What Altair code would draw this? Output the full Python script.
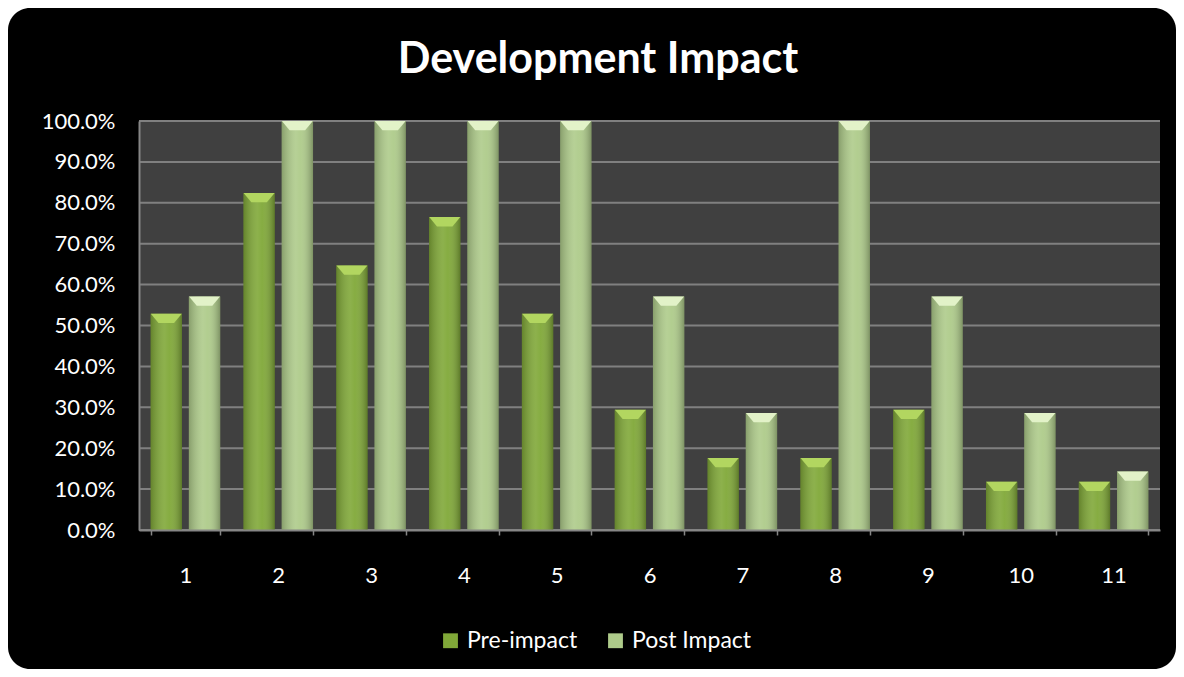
import altair as alt
import pandas as pd

title_text = "Development Impact"
categories = ["1", "2", "3", "4", "5", "6", "7", "8", "9", "10", "11"]
pre_impact = [0.529, 0.824, 0.647, 0.765, 0.529, 0.294, 0.176, 0.176, 0.294, 0.118, 0.118]
post_impact = [0.571, 1.0, 1.0, 1.0, 1.0, 0.571, 0.286, 1.0, 0.571, 0.286, 0.143]
series_names = ["Pre-impact", "Post Impact"]
series_colors = ["#80a838", "#aecb8a"]
bevel_colors = ["#b2d660", "#e2f2c8"]
y_ticks = [0.0, 0.1, 0.2, 0.3, 0.4, 0.5, 0.6, 0.7, 0.8, 0.9, 1.0]

rows = []
for c, a, b in zip(categories, pre_impact, post_impact):
    rows.append({"cat": c, "series": series_names[0], "value": a, "bevel": bevel_colors[0]})
    rows.append({"cat": c, "series": series_names[1], "value": b, "bevel": bevel_colors[1]})
df = pd.DataFrame(rows)

W, H = 1021, 409
FONT = "Lato"

one = pd.DataFrame({"k": [0]})

bg = alt.Chart(one).mark_rect(color="black", cornerRadius=22).encode(
    x=alt.value(-131), x2=alt.value(1037), y=alt.value(-113), y2=alt.value(548)
)
plotbg = alt.Chart(one).mark_rect(color="#404040").encode(
    x=alt.value(0), x2=alt.value(W), y=alt.value(0), y2=alt.value(H)
)
title = alt.Chart(pd.DataFrame({"t": [title_text]})).mark_text(
    font=FONT, fontSize=43, fontWeight="bold", color="white", align="center", baseline="alphabetic"
).encode(text="t:N", x=alt.value(459), y=alt.value(-48))

yaxis = alt.Axis(
    title=None, format=".1%", values=y_ticks, labelColor="white", labelFontSize=22,
    labelFont=FONT, labelPadding=24, grid=False, ticks=False,
    domainColor="#868686", domainWidth=2, zindex=1,
)
grid = alt.Chart(pd.DataFrame({"v": y_ticks})).mark_rule(color="#808080", strokeWidth=2).encode(
    y=alt.Y("v:Q", scale=alt.Scale(domain=[0, 1]), axis=yaxis)
)

xenc = alt.X(
    "cat:N",
    sort=categories,
    scale=alt.Scale(paddingInner=0.25, paddingOuter=0.125),
    axis=alt.Axis(
        title=None, labelAngle=0, labelColor="white", labelFontSize=22, labelFont=FONT,
        labelPadding=30, domainColor="#868686", domainWidth=2, ticks=True,
        tickColor="#868686", tickSize=5, tickWidth=1.5, tickBand="extent", zindex=1,
    ),
)
xoff = alt.XOffset("series:N", sort=series_names,
                   scale=alt.Scale(domain=series_names, paddingInner=0.18, paddingOuter=0))
yenc = alt.Y("value:Q", scale=alt.Scale(domain=[0, 1]), axis=yaxis)

bars = alt.Chart(df).mark_bar().encode(
    x=xenc, xOffset=xoff, y=yenc,
    color=alt.Color(
        "series:N", sort=series_names,
        scale=alt.Scale(domain=series_names, range=series_colors),
        legend=alt.Legend(
            title=None, orient="none", legendX=300, legendY=508, direction="horizontal",
            labelColor="white", labelFontSize=23, labelFont=FONT, symbolType="square",
            symbolSize=220, symbolStrokeWidth=0, columnPadding=26, labelOffset=5,
        ),
    ),
)

shade = alt.Chart(df).mark_bar(
    color=alt.Gradient(
        gradient="linear", x1=0, x2=1, y1=0, y2=0,
        stops=[
            alt.GradientStop(color="rgba(0,0,0,0.22)", offset=0),
            alt.GradientStop(color="rgba(255,255,255,0.10)", offset=0.45),
            alt.GradientStop(color="rgba(255,255,255,0.05)", offset=0.6),
            alt.GradientStop(color="rgba(0,0,0,0.28)", offset=1),
        ],
    )
).encode(x=xenc, xOffset=xoff, y=yenc)

bevel = alt.Chart(df).mark_point(
    shape="M-1,0L1,0L0.5,0.6L-0.5,0.6Z", filled=True, size=961, opacity=1, strokeWidth=0
).encode(
    x=xenc, xOffset=xoff, y=yenc,
    fill=alt.Fill("bevel:N", scale=None, legend=None),
)

chart = alt.layer(bg, plotbg, grid, bars, shade, bevel, title).properties(
    width=W, height=H,
    background="white",
    padding={"left": 131, "top": 113, "right": 16, "bottom": 139},
    autosize=alt.AutoSizeParams(type="none"),
).configure_view(strokeWidth=0)

chart.save("out.html", embed_options={"renderer": "svg", "actions": False})
